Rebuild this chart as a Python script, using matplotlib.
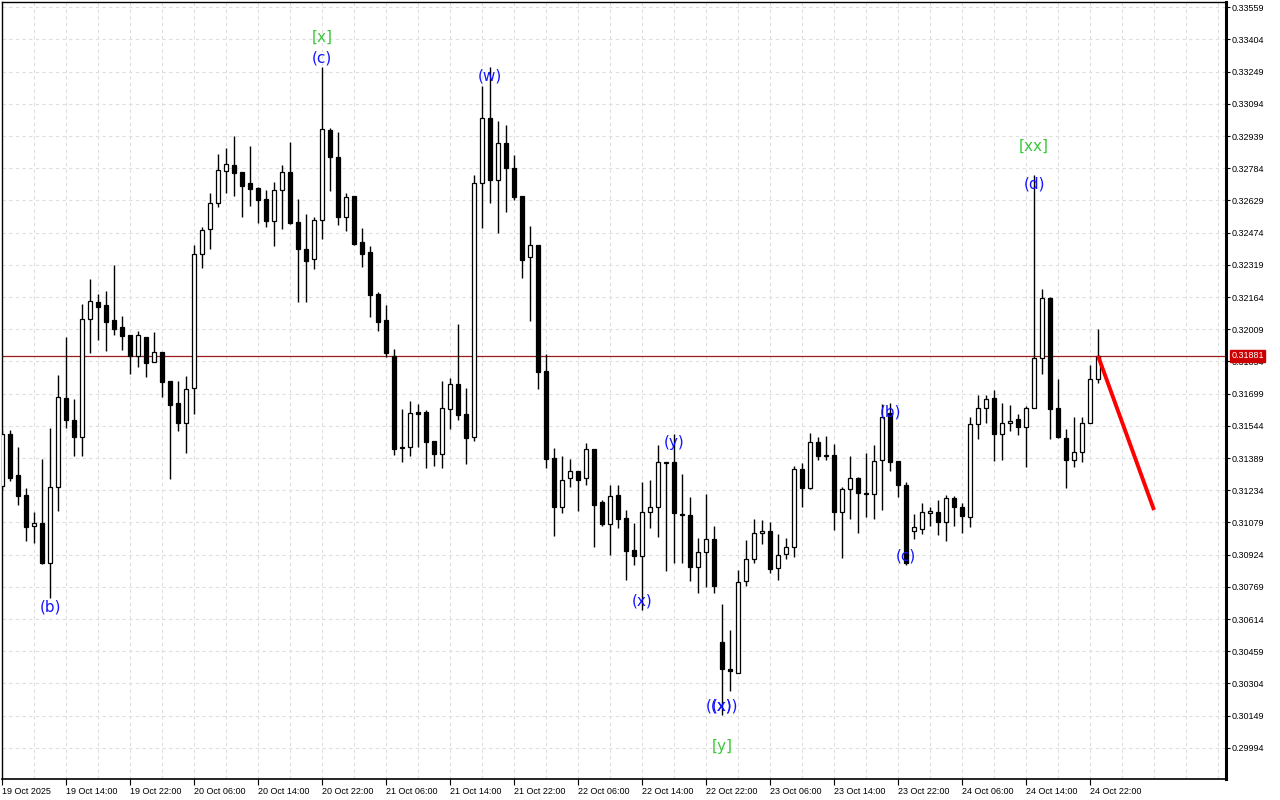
"""
plot.py
-------
Hourly candlestick chart (19-24 Oct 2025) with wave labels, MetaTrader look.
"""

import matplotlib
matplotlib.use("Agg")
import matplotlib.pyplot as plt

# ── Data ──────────────────────────────────────────────────────────────────────

opens = [
    0.31255, 0.31505, 0.31308, 0.31211, 0.31062, 0.31077, 0.30884, 0.31250, 0.31678, 0.31572,
    0.31491, 0.32059, 0.32140, 0.32126, 0.32054, 0.32020, 0.31982, 0.31880, 0.31972, 0.31852,
    0.31900, 0.31760, 0.31654, 0.31558, 0.31726, 0.32371, 0.32492, 0.32617, 0.32771, 0.32800,
    0.32766, 0.32713, 0.32689, 0.32636, 0.32530, 0.32680, 0.32766, 0.32525, 0.32395, 0.32347,
    0.32535, 0.32968, 0.32838, 0.32550, 0.32651, 0.32429, 0.32381, 0.32179, 0.32054, 0.31880,
    0.31438, 0.31442, 0.31611, 0.31611, 0.31471, 0.31409, 0.31625, 0.31746, 0.31601, 0.31491,
    0.32713, 0.33026, 0.32728, 0.32906, 0.32785, 0.32651, 0.32357, 0.32415, 0.31808, 0.31389,
    0.31154, 0.31293, 0.31327, 0.31293, 0.31433, 0.31178, 0.31072, 0.31211, 0.31101, 0.30947,
    0.30918, 0.31129, 0.31154, 0.31365, 0.31370, 0.31120, 0.31115, 0.30865, 0.30937, 0.30999,
    0.30504, 0.30374, 0.30354, 0.30797, 0.30903, 0.31028, 0.31038, 0.30860, 0.30927, 0.30961,
    0.31336, 0.31245, 0.31466, 0.31404, 0.31404, 0.31129, 0.31240, 0.31293, 0.31221, 0.31216,
    0.31380, 0.31606, 0.31375, 0.31259, 0.31038, 0.31048, 0.31125, 0.31129, 0.31081, 0.31197,
    0.31154, 0.31105, 0.31553, 0.31630, 0.31678, 0.31505, 0.31558, 0.31577, 0.31539, 0.31630,
    0.31871, 0.32160, 0.31630, 0.31486, 0.31380, 0.31418, 0.31558, 0.31770,
]
highs = [
    0.31524, 0.31524, 0.31442, 0.31245, 0.31129, 0.31385, 0.31534, 0.31789, 0.31972, 0.31673,
    0.32131, 0.32251, 0.32179, 0.32193, 0.32318, 0.32073, 0.31982, 0.32001, 0.31972, 0.31996,
    0.31900, 0.31760, 0.31760, 0.31784, 0.32415, 0.32501, 0.32665, 0.32853, 0.32882, 0.32939,
    0.32766, 0.32891, 0.32694, 0.32680, 0.32718, 0.32800, 0.32911, 0.32636, 0.32564, 0.32550,
    0.33272, 0.32978, 0.32959, 0.32665, 0.32651, 0.32497, 0.32410, 0.32188, 0.32126, 0.31914,
    0.31625, 0.31664, 0.31649, 0.31620, 0.31471, 0.31760, 0.31775, 0.32034, 0.31726, 0.32752,
    0.33180, 0.33272, 0.33012, 0.32992, 0.32848, 0.32651, 0.32506, 0.32415, 0.31890, 0.31438,
    0.31399, 0.31385, 0.31327, 0.31462, 0.31433, 0.31187, 0.31259, 0.31259, 0.31139, 0.31077,
    0.31274, 0.31284, 0.31452, 0.31372, 0.31505, 0.31312, 0.31202, 0.31004, 0.31216, 0.31062,
    0.30687, 0.30561, 0.30850, 0.30995, 0.31096, 0.31091, 0.31081, 0.31024, 0.31004, 0.31351,
    0.31365, 0.31510, 0.31491, 0.31495, 0.31457, 0.31250, 0.31399, 0.31298, 0.31413, 0.31452,
    0.31649, 0.31654, 0.31375, 0.31274, 0.31120, 0.31173, 0.31154, 0.31187, 0.31211, 0.31207,
    0.31173, 0.31587, 0.31693, 0.31693, 0.31717, 0.31654, 0.31645, 0.31601, 0.31640, 0.32752,
    0.32203, 0.32164, 0.31770, 0.31529, 0.31587, 0.31587, 0.31837, 0.32010,
]
lows = [
    0.31235, 0.31279, 0.31163, 0.30990, 0.30980, 0.30879, 0.30716, 0.31134, 0.31534, 0.31399,
    0.31399, 0.31895, 0.31957, 0.31904, 0.31982, 0.31909, 0.31794, 0.31827, 0.31779, 0.31852,
    0.31683, 0.31288, 0.31519, 0.31413, 0.31601, 0.32304, 0.32395, 0.32598, 0.32665, 0.32651,
    0.32550, 0.32602, 0.32521, 0.32501, 0.32410, 0.32492, 0.32516, 0.32140, 0.32140, 0.32299,
    0.32444, 0.32675, 0.32511, 0.32482, 0.32415, 0.32309, 0.32068, 0.32001, 0.31876, 0.31404,
    0.31370, 0.31399, 0.31442, 0.31341, 0.31351, 0.31341, 0.31529, 0.31572, 0.31361, 0.31471,
    0.32497, 0.32617, 0.32473, 0.32574, 0.32631, 0.32256, 0.32049, 0.31722, 0.31341, 0.31014,
    0.31125, 0.31250, 0.31134, 0.31259, 0.30961, 0.31062, 0.30922, 0.31052, 0.30802, 0.30874,
    0.30658, 0.31052, 0.31009, 0.30845, 0.30884, 0.30884, 0.30797, 0.30740, 0.30768, 0.30740,
    0.30152, 0.30268, 0.30354, 0.30773, 0.30884, 0.30975, 0.30836, 0.30802, 0.30903, 0.30913,
    0.31154, 0.31240, 0.31380, 0.31380, 0.31043, 0.30908, 0.31096, 0.31028, 0.31105, 0.31096,
    0.31139, 0.31327, 0.31202, 0.30874, 0.30999, 0.31024, 0.31062, 0.31019, 0.30990, 0.31062,
    0.31028, 0.31057, 0.31481, 0.31558, 0.31375, 0.31380, 0.31519, 0.31500, 0.31346, 0.31630,
    0.31794, 0.31481, 0.31488, 0.31245, 0.31346, 0.31370, 0.31558, 0.31750,
]
closes = [
    0.31505, 0.31293, 0.31207, 0.31057, 0.31077, 0.30884, 0.31250, 0.31683, 0.31572, 0.31491,
    0.32059, 0.32145, 0.32116, 0.32044, 0.32010, 0.31977, 0.31880, 0.31982, 0.31847, 0.31900,
    0.31755, 0.31645, 0.31558, 0.31722, 0.32371, 0.32487, 0.32617, 0.32776, 0.32805, 0.32761,
    0.32699, 0.32684, 0.32631, 0.32530, 0.32680, 0.32766, 0.32521, 0.32395, 0.32338, 0.32535,
    0.32973, 0.32838, 0.32550, 0.32646, 0.32420, 0.32371, 0.32174, 0.32044, 0.31895, 0.31433,
    0.31442, 0.31606, 0.31601, 0.31466, 0.31409, 0.31630, 0.31746, 0.31596, 0.31486, 0.32713,
    0.33026, 0.32728, 0.32906, 0.32785, 0.32646, 0.32343, 0.32415, 0.31803, 0.31385, 0.31154,
    0.31284, 0.31327, 0.31284, 0.31433, 0.31163, 0.31072, 0.31207, 0.31096, 0.30942, 0.30918,
    0.31129, 0.31154, 0.31370, 0.31370, 0.31125, 0.31115, 0.30865, 0.30937, 0.30999, 0.30773,
    0.30374, 0.30364, 0.30793, 0.30903, 0.31028, 0.31038, 0.30855, 0.30922, 0.30961, 0.31336,
    0.31245, 0.31466, 0.31399, 0.31399, 0.31129, 0.31240, 0.31293, 0.31221, 0.31216, 0.31375,
    0.31587, 0.31370, 0.31259, 0.30884, 0.31057, 0.31129, 0.31134, 0.31081, 0.31197, 0.31154,
    0.31110, 0.31553, 0.31630, 0.31673, 0.31505, 0.31558, 0.31568, 0.31539, 0.31630, 0.31871,
    0.32160, 0.31625, 0.31491, 0.31380, 0.31418, 0.31558, 0.31770, 0.31881,
]

# x-axis labels, one every 8 hourly bars
time_labels = [
    "19 Oct 2025", "19 Oct 14:00", "19 Oct 22:00", "20 Oct 06:00", "20 Oct 14:00",
    "20 Oct 22:00", "21 Oct 06:00", "21 Oct 14:00", "21 Oct 22:00", "22 Oct 06:00",
    "22 Oct 14:00", "22 Oct 22:00", "23 Oct 06:00", "23 Oct 14:00", "23 Oct 22:00",
    "24 Oct 06:00", "24 Oct 14:00", "24 Oct 22:00",
]
price_ticks = [
    0.33559, 0.33404, 0.33249, 0.33094, 0.32939, 0.32784, 0.32629, 0.32474,
    0.32319, 0.32164, 0.32009, 0.31854, 0.31699, 0.31544, 0.31389, 0.31234,
    0.31079, 0.30924, 0.30769, 0.30614, 0.30459, 0.30304, 0.30149, 0.29994,
]
bid_price = 0.31881

# wave labels: bar index, price, text, colour
label_bars = [6, 40, 40, 61, 80, 84, 90, 90, 90, 111, 113, 129, 129]
label_prices = [0.30672, 0.33416, 0.33315, 0.33228, 0.30701, 0.31462, 0.30196,
                0.30196, 0.30003, 0.31611, 0.30918, 0.32891, 0.32708]
label_texts = ["(b)", "[x]", "(c)", "(w)", "(x)", "(y)", "((x))", "(x)", "[y]",
               "(b)", "(c)", "[xx]", "(d)"]
label_colors = ["blue", "green", "blue", "blue", "blue", "blue", "blue", "blue",
                "green", "blue", "blue", "green", "blue"]

# forecast line: bar index and price at both ends
forecast_bars = [137, 144]
forecast_prices = [0.31881, 0.31139]

# ── Plot ──────────────────────────────────────────────────────────────────────

W, H = 1280, 800
BLUE = "#1414ff"
GREEN = "#3cc83c"
GRID = "#dedede"


def plot_chart(output_path="out.png"):
    fig = plt.figure(figsize=(W / 100, H / 100), dpi=100)
    ax = fig.add_axes([2 / W, 21 / H, 1224 / W, 777 / H])
    ax.set_xlim(-0.03, 153)
    ax.set_ylim(0.298442, 0.335845)

    # grid
    for gx in range(4, 153, 4):
        ax.axvline(gx, color=GRID, lw=0.8, ls=(0, (3, 3)), zorder=0)
    for gy in price_ticks:
        ax.axhline(gy, color=GRID, lw=0.8, ls=(0, (3, 3)), zorder=0)

    # candles
    idx = list(range(len(opens)))
    ax.vlines(idx, lows, highs, color="black", lw=1.0, zorder=2)
    for i, o, c in zip(idx, opens, closes):
        bull = c >= o
        ax.bar(i, abs(c - o), bottom=min(o, c), width=0.5,
               color="white" if bull else "black", edgecolor="black",
               linewidth=0.9, zorder=3)

    # current price line + forecast
    ax.axhline(bid_price, color="#9a1c1c", lw=0.9, zorder=1)
    ax.plot(forecast_bars, forecast_prices, color="#ff0000", lw=2.8,
            solid_capstyle="butt", zorder=4)

    # wave labels (the two labels at the low overlap, as on the source chart)
    for b, p, t, col in zip(label_bars, label_prices, label_texts, label_colors):
        ax.text(b, p, t, ha="center", va="center", fontsize=11,
                color=BLUE if col == "blue" else GREEN,
                family="DejaVu Sans", zorder=5)

    # axes / ticks
    for side in ("left", "top"):
        ax.spines[side].set_linewidth(1.0)
    ax.spines["bottom"].set_linewidth(1.2)
    ax.spines["right"].set_linewidth(2.2)

    ax.yaxis.tick_right()
    ax.set_yticks(price_ticks)
    ax.set_yticklabels([f"{v:.5f}" for v in price_ticks])
    ax.set_xticks(list(range(0, 8 * len(time_labels), 8)))
    ax.set_xticklabels(time_labels)
    for lbl in ax.get_xticklabels():
        lbl.set_horizontalalignment("left")
    ax.tick_params(axis="x", direction="out", length=4, width=0.8, pad=2,
                   labelsize=6.5)
    ax.tick_params(axis="y", direction="out", length=3, width=0.8, pad=1,
                   labelsize=6.5)
    for lbl in ax.get_xticklabels() + ax.get_yticklabels():
        lbl.set_family("Liberation Sans")

    # bid price box on the right axis
    ax.annotate(f"{bid_price:.5f}", xy=(1.0, bid_price),
                xycoords=("axes fraction", "data"), xytext=(4, 0),
                textcoords="offset points", ha="left", va="center",
                fontsize=6.5, family="Liberation Sans", color="white",
                bbox=dict(boxstyle="square,pad=0.15", fc="#cc0000", ec="#cc0000"),
                annotation_clip=False, zorder=10)

    fig.savefig(output_path, dpi=100)
    plt.close(fig)


if __name__ == "__main__":
    plot_chart("out.png")
